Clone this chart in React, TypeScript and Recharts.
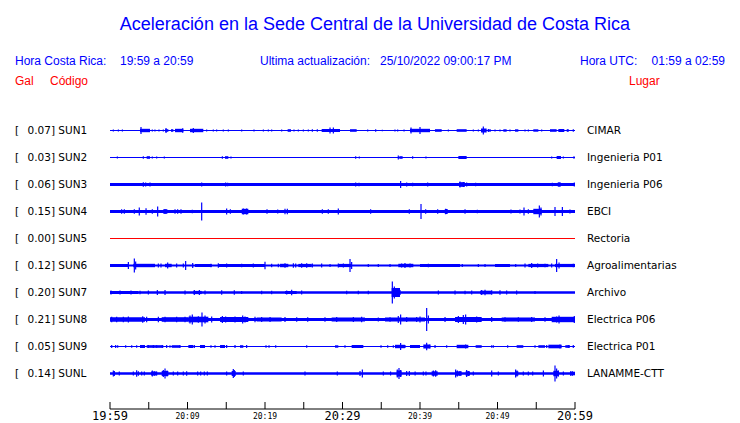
import { Area, ComposedChart, ReferenceArea, ReferenceLine, XAxis, YAxis } from "recharts"

// time axis, minutes after 19:59
const TICK_MINUTES = [0, 5, 10, 15, 20, 25, 30, 35, 40, 45, 50, 55, 60]
const TICK_LABELS = ["19:59", "", "20:09", "", "20:19", "", "20:29", "", "20:39", "", "20:49", "", "20:59"]
const MAJOR_LABELS = ["19:59", "20:29", "20:59"]

const CODES = ["SUN1", "SUN2", "SUN3", "SUN4", "SUN5", "SUN6", "SUN7", "SUN8", "SUN9", "SUNL"]
const PEAK_GAL = [0.07, 0.03, 0.06, 0.15, 0.0, 0.12, 0.2, 0.21, 0.05, 0.14]
const PLACES = [
    "CIMAR",
    "Ingenieria P01",
    "Ingenieria P06",
    "EBCI",
    "Rectoria",
    "Agroalimentarias",
    "Archivo",
    "Electrica P06",
    "Electrica P01",
    "LANAMME-CTT",
]

// half width of the steady noise band of each trace
const BASE = [0.5, 0.5, 1.4, 1.5, 0.5, 1.1, 1.2, 1.6, 0.5, 1.3]

// [minute, half amplitude]
const SPIKES_SUN1 = [
    [0.43, 1], [1.08, 1], [1.6, 1], [4.0, 3.5], [5.46, 1], [5.8, 1], [6.32, 1], [6.88, 1], [7.23, 2.5],
    [9.38, 2.3], [10.75, 2.5], [12.47, 1], [13.33, 1], [13.76, 1], [14.62, 1], [15.27, 1], [16.99, 1],
    [18.58, 1], [19.79, 1], [20.43, 1], [20.86, 1], [22.15, 1], [23.74, 1], [24.3, 1], [24.95, 1],
    [25.59, 1], [26.11, 1.3], [26.75, 1.3], [28.39, 3], [28.82, 3], [33.25, 1], [34.28, 1.2], [35.14, 0.8],
    [36.77, 1], [37.12, 1], [37.94, 1], [38.84, 3], [40.0, 3.5], [43.66, 1], [46.88, 1], [47.53, 1],
    [48.17, 4], [48.82, 1.5], [49.03, 1.5], [49.68, 1], [50.32, 1], [51.61, 1], [53.55, 1], [53.98, 1],
    [55.7, 1], [59.14, 1], [59.78, 1.3],
]
const SPIKES_SUN2 = [
    [0.95, 1], [4.3, 1.3], [5.46, 1], [6.02, 1], [7.01, 1], [14.5, 1.3], [15.61, 1], [31.7, 1.3], [32.17, 1],
    [37.2, 2], [39.05, 1.3], [40.77, 1], [56.99, 1], [58.5, 1], [59.87, 1.3],
]
const SPIKES_SUN3 = [
    [4.3, 2.3], [4.6, 2], [5.16, 2], [11.83, 2], [14.92, 2], [15.18, 1.8], [31.7, 2], [32.13, 1.7],
    [37.5, 3.5], [38.28, 2], [39.05, 1.7], [40.99, 2], [45.16, 3], [45.59, 2.5], [46.02, 2], [47.18, 1.7],
    [57.08, 1.7], [57.94, 2.3], [59.91, 2],
]
const SPIKES_SUN4 = [
    [1.5, 2.3], [1.85, 2.3], [3.14, 2.3], [3.78, 4], [4.65, 3.3], [5.46, 2.3], [6.15, 5], [7.1, 2.3],
    [8.39, 2.3], [8.73, 2.3], [9.16, 2.3], [10.62, 1.8], [11.83, 9], [15.05, 3], [15.53, 2.3], [17.2, 3],
    [17.63, 3], [20.26, 2.3], [21.64, 2], [22.58, 2.7], [22.88, 2.7], [27.4, 2.3], [28.17, 2.3],
    [29.46, 3], [33.63, 2.3], [38.62, 2.3], [40.13, 7.5], [40.73, 2.3], [42.28, 2.3], [43.31, 2.7],
    [45.81, 2.3], [47.4, 1.8], [51.74, 2], [52.9, 2], [53.42, 4], [53.98, 2.3], [54.84, 2.3], [55.4, 6],
    [55.61, 4], [57.42, 4.5], [58.37, 4.5], [59.35, 2],
]
const SPIKES_SUN5: number[][] = []
const SPIKES_SUN6 = [
    [2.37, 3.5], [3.14, 7], [3.31, 4], [6.24, 2], [6.58, 2], [7.44, 3], [8.6, 2], [9.46, 2], [9.76, 4.5],
    [10.67, 2.5], [12.26, 1.5], [13.03, 1.8], [13.98, 2.3], [15.05, 2], [16.99, 1.7], [18.49, 2],
    [20.0, 3.7], [20.86, 1.8], [21.72, 1.8], [22.58, 2.3], [23.66, 2.3], [23.96, 2], [24.73, 2.3],
    [25.38, 2.3], [26.11, 2], [27.31, 2], [28.39, 1.5], [29.46, 2], [30.11, 2], [30.97, 6.5], [31.18, 3.5],
    [33.33, 1.5], [34.62, 1.5], [36.13, 1.5], [37.63, 2], [38.06, 2.5], [38.71, 2], [41.08, 1.8],
    [45.46, 1.5], [47.53, 1.5], [48.39, 1.5], [49.89, 1.5], [52.35, 1.5], [53.55, 2], [54.41, 2.5],
    [55.18, 2], [56.13, 1.8], [56.99, 2], [57.63, 6.5], [57.94, 3], [58.93, 1.5], [59.78, 1.8],
]
const SPIKES_SUN7 = [
    [0.13, 2], [1.29, 2], [2.71, 2], [3.87, 1.8], [4.95, 2], [6.11, 2.5], [7.1, 2.5], [9.68, 2],
    [10.88, 2.5], [11.53, 2.5], [12.26, 2], [14.41, 2.3], [16.04, 2.3], [16.99, 1.5], [19.57, 1.8],
    [20.86, 1.8], [22.8, 2], [23.44, 2.7], [24.73, 2], [30.54, 1.8], [32.04, 1.8], [33.33, 1.8],
    [36.43, 11], [36.69, 6], [36.99, 4], [37.42, 2.5], [42.37, 2], [44.52, 2], [45.81, 1.8], [46.67, 2],
    [47.96, 2.5], [48.39, 2.7], [49.25, 2.3], [50.32, 2.3], [51.18, 2], [52.47, 2], [54.84, 1.5],
]
const SPIKES_SUN8 = [
    [0.22, 2.7], [0.86, 2.7], [1.72, 2.7], [2.37, 3], [4.22, 3.3], [4.73, 2.7], [6.24, 2.7], [7.1, 2.7],
    [8.6, 2.7], [9.68, 2.7], [10.32, 4], [10.62, 5], [11.4, 3.3], [11.87, 7], [12.26, 4], [13.12, 3],
    [14.5, 3.5], [14.92, 3], [16.13, 3], [17.12, 4], [17.42, 3], [18.71, 2.7], [19.57, 2.5], [20.65, 2.5],
    [22.58, 2.5], [24.09, 2.3], [25.51, 2.3], [27.74, 2.3], [29.25, 2.5], [31.4, 2.5], [32.47, 2.7],
    [34.62, 2], [36.13, 2.3], [37.2, 3.5], [37.5, 5], [38.28, 2.5], [39.57, 2.5], [40.0, 3], [40.86, 11.5],
    [41.08, 4], [43.23, 2.5], [44.95, 3.5], [45.59, 4.5], [45.89, 5], [47.31, 3], [49.25, 2.5],
    [50.97, 2.3], [52.69, 2.3], [54.41, 2.5], [56.13, 2.3], [57.63, 3], [57.94, 4], [59.91, 3.5],
]
const SPIKES_SUN9 = [
    [0.22, 1.5], [0.73, 1.5], [0.99, 1.3], [2.02, 1.3], [2.8, 1.3], [3.44, 1.3], [4.95, 1.5], [5.59, 1.5],
    [6.02, 1.3], [6.75, 1.5], [7.31, 1.5], [7.74, 1.3], [9.03, 1.5], [10.88, 1.5], [13.03, 1.3],
    [13.55, 1.3], [15.05, 1.5], [16.13, 1.5], [17.63, 1.5], [20.13, 1.3], [20.52, 1.3], [21.38, 1.3],
    [25.38, 1.3], [30.32, 1.3], [34.97, 1.3], [35.83, 1.3], [36.56, 1.3], [37.5, 3.5], [38.06, 1.5],
    [40.86, 3.8], [41.29, 2], [41.94, 1.5], [43.44, 1.3], [45.89, 2], [49.25, 1.3], [49.46, 1.3],
    [51.31, 1.3], [54.84, 1.3], [56.35, 1.5], [58.06, 2], [59.14, 1.5], [59.78, 1.5],
]
const SPIKES_SUNL = [
    [0.43, 3], [0.56, 2.5], [1.2, 2], [3.01, 2], [3.44, 3.3], [3.66, 2.3], [4.09, 2], [4.43, 2],
    [5.46, 3], [5.72, 2.3], [6.02, 2], [6.88, 3.5], [7.1, 5], [7.36, 3], [8.17, 2], [8.73, 2], [9.46, 2],
    [9.89, 2.3], [11.31, 2], [11.7, 2], [12.17, 2], [12.56, 2], [15.05, 2], [15.91, 4.5], [16.04, 3.5],
    [17.2, 2], [25.16, 2], [29.33, 2], [32.26, 2.5], [32.56, 4], [35.27, 2], [36.2, 2], [37.07, 4],
    [37.29, 5.5], [37.5, 3.5], [38.28, 2.5], [38.62, 2.5], [39.37, 2], [40.43, 2], [40.77, 2], [41.72, 3],
    [42.02, 3.3], [44.6, 4], [44.82, 3], [45.16, 2.5], [46.02, 3.5], [46.24, 2.5], [46.88, 2], [49.25, 3],
    [50.11, 2], [52.34, 4], [52.52, 3], [53.33, 2], [53.98, 2], [54.54, 2], [55.92, 3], [57.42, 8],
    [57.63, 5], [57.85, 3], [58.5, 2], [59.44, 2.3], [59.66, 2.3],
]

// [start minute, end minute, half amplitude]
const BURSTS_SUN1 = [
    [3.87, 5.16, 1.7], [7.1, 7.53, 1.3], [7.87, 8.17, 1.3], [8.39, 9.46, 1.7], [10.32, 12.04, 1.7],
    [22.92, 23.35, 1.3], [27.31, 29.68, 1.5], [30.97, 31.83, 1.3], [38.71, 41.29, 1.7], [41.93, 42.8, 1.3],
    [44.73, 46.02, 1.3], [47.87, 48.6, 2], [50.75, 51.18, 1.2], [52.26, 52.69, 1.2], [54.62, 55.27, 1.2],
    [56.77, 57.63, 1.3], [57.85, 58.62, 1.5], [58.93, 59.14, 1.3],
]
const BURSTS_SUN2 = [
    [4.73, 5.16, 1.3], [14.84, 15.27, 1.3], [37.33, 37.76, 1.3], [44.95, 46.02, 1.5], [57.63, 58.19, 1.5],
]
const BURSTS_SUN3 = [[45.03, 45.81, 2.3], [57.76, 58.19, 2]]
const BURSTS_SUN4 = [[6.88, 7.4, 2.3], [17.0, 17.85, 2.7], [43.2, 43.57, 2.5], [54.62, 55.7, 2.7]]
const BURSTS_SUN5: number[][] = []
const BURSTS_SUN6 = [
    [0.0, 2.37, 1.5], [3.01, 5.81, 1.7], [7.1, 7.96, 1.7], [10.97, 13.12, 1.5], [13.98, 19.99, 1.5],
    [21.94, 23.01, 1.7], [24.3, 26.02, 1.6], [29.46, 31.18, 1.6], [37.2, 39.14, 1.7], [40.0, 45.16, 1.5],
    [49.68, 51.61, 1.5], [53.98, 56.56, 1.6], [57.42, 60, 1.6],
]
const BURSTS_SUN7 = [
    [0.0, 3.66, 1.5], [10.75, 11.83, 1.6], [22.58, 24.09, 1.5], [36.34, 37.42, 4.5], [47.74, 49.25, 1.8],
]
const BURSTS_SUN8 = [
    [0.0, 4.52, 2.3], [6.67, 10.11, 2.3], [10.11, 12.69, 2.8], [14.2, 17.85, 2.5], [18.92, 22.15, 2],
    [28.6, 32.9, 2], [35.48, 40.65, 2], [44.52, 47.96, 2.5], [50.54, 54.84, 2], [56.99, 60, 2.7],
]
const BURSTS_SUN9 = [
    [3.87, 4.52, 1.5], [4.73, 6.88, 1.3], [7.96, 9.03, 1.3], [10.11, 10.75, 1.5], [11.61, 12.26, 1.5],
    [14.2, 14.84, 1.5], [16.77, 17.2, 1.3], [29.03, 29.46, 1.2], [31.18, 32.69, 1.5], [36.77, 38.06, 1.7],
    [38.71, 40.0, 1.5], [40.43, 41.29, 2], [44.73, 46.24, 1.7], [47.18, 47.96, 1.3], [52.47, 53.33, 1.3],
    [55.27, 56.13, 1.3], [56.56, 58.28, 1.8], [58.75, 59.35, 1.3],
]
const BURSTS_SUNL = [
    [5.29, 6.02, 2], [6.67, 7.53, 2.5], [15.7, 16.22, 2.5], [36.99, 37.63, 3], [41.5, 42.28, 2.2],
    [44.52, 45.38, 2.2], [45.89, 46.45, 2.2], [52.26, 52.69, 2.2], [57.2, 57.94, 2.7], [59.35, 60, 1.8],
]

const SPIKES = [
    SPIKES_SUN1, SPIKES_SUN2, SPIKES_SUN3, SPIKES_SUN4, SPIKES_SUN5,
    SPIKES_SUN6, SPIKES_SUN7, SPIKES_SUN8, SPIKES_SUN9, SPIKES_SUNL,
]
const BURSTS = [
    BURSTS_SUN1, BURSTS_SUN2, BURSTS_SUN3, BURSTS_SUN4, BURSTS_SUN5,
    BURSTS_SUN6, BURSTS_SUN7, BURSTS_SUN8, BURSTS_SUN9, BURSTS_SUNL,
]

const BLUE = "#0000ff"
const RED = "#ff0000"
const ROW = 27
const N = CODES.length
const center = (i: number) => (N - 0.5 - i) * ROW
const traceColor = (i: number) => (PEAK_GAL[i] === 0 ? RED : BLUE)

const bandData = [0, 60].map((t) => {
    const row: Record<string, any> = { t }
    BASE.forEach((b, i) => {
        row[`b${i}`] = [center(i) - b, center(i) + b]
    })
    return row
})

const rowIndex = (v: number) => Math.round(N - 0.5 - v / ROW)

function StationTick(props: any) {
    const { y, payload } = props
    const i = rowIndex(payload.value)
    return (
        <g fontFamily="DejaVu Sans" fontSize={10.5} fill="#000">
            <text x={15} y={y} dy="0.35em">[</text>
            <text x={27.5} y={y} dy="0.35em">{`${PEAK_GAL[i].toFixed(2)}] ${CODES[i]}`}</text>
        </g>
    )
}

function PlaceTick(props: any) {
    const { x, y, payload } = props
    const i = rowIndex(payload.value)
    return (
        <text x={x} y={y} dy="0.35em" fontFamily="DejaVu Sans" fontSize={10.5} fill="#000" textAnchor="start">
            {PLACES[i]}
        </text>
    )
}

function TimeTick(props: any) {
    const { x, y, payload } = props
    const label = TICK_LABELS[TICK_MINUTES.indexOf(payload.value)]
    const major = MAJOR_LABELS.includes(label)
    return (
        <g>
            <line x1={x} y1={y} x2={x} y2={y - 7} stroke="#000" />
            {label && (
                <text
                    x={x}
                    y={major ? y + 11 : y + 9.5}
                    textAnchor="middle"
                    fontFamily="DejaVu Sans Mono"
                    fontSize={major ? 12 : 8}
                    fill="#000"
                >
                    {label}
                </text>
            )}
        </g>
    )
}

function Header() {
    const f = { fontFamily: "Liberation Sans, Arial, sans-serif" }
    return (
        <svg width={740} height={423} style={{ position: "absolute", left: 0, top: 0, pointerEvents: "none" }}>
            <text x={375} y={29.5} textAnchor="middle" fontSize={18} fill={BLUE} {...f}>
                Aceleración en la Sede Central de la Universidad de Costa Rica
            </text>
            <g fontSize={12} fill={BLUE} {...f}>
                <text x={15} y={65}>Hora Costa Rica:</text>
                <text x={120} y={65}>19:59 a 20:59</text>
                <text x={260} y={65}>Ultima actualización:</text>
                <text x={380} y={65}>25/10/2022 09:00:17 PM</text>
                <text x={580} y={65}>Hora UTC:</text>
                <text x={725} y={65} textAnchor="end">01:59 a 02:59</text>
            </g>
            <g fontSize={12} fill={RED} {...f}>
                <text x={15} y={85}>Gal</text>
                <text x={50} y={85}>Código</text>
                <text x={629} y={85}>Lugar</text>
            </g>
        </svg>
    )
}

export default function App() {
    const centers = CODES.map((_, i) => center(i))
    return (
        <div style={{ position: "absolute", left: 0, top: 0, width: 740, height: 423, background: "#fff" }}>
            <ComposedChart width={740} height={423} data={bandData} margin={{ top: 117, right: 0, bottom: 0, left: 0 }}>
                <XAxis
                    dataKey="t"
                    type="number"
                    domain={[0, 60]}
                    ticks={TICK_MINUTES}
                    interval={0}
                    height={14}
                    tickSize={0}
                    tickMargin={0}
                    tickLine={false}
                    axisLine={{ stroke: "#000" }}
                    tick={<TimeTick />}
                    allowDataOverflow
                />
                <YAxis
                    yAxisId="left"
                    type="number"
                    domain={[-22, N * ROW]}
                    ticks={centers}
                    interval={0}
                    width={110}
                    axisLine={false}
                    tickLine={false}
                    tickSize={0}
                    tick={<StationTick />}
                    allowDataOverflow
                />
                <YAxis
                    yAxisId="right"
                    orientation="right"
                    type="number"
                    domain={[-22, N * ROW]}
                    ticks={centers}
                    interval={0}
                    width={165}
                    axisLine={false}
                    tickLine={false}
                    tickSize={0}
                    tickMargin={12}
                    tick={<PlaceTick />}
                    allowDataOverflow
                />
                {CODES.map((c, i) => (
                    <Area
                        key={c}
                        yAxisId="left"
                        type="linear"
                        dataKey={`b${i}`}
                        stroke="none"
                        fill={traceColor(i)}
                        fillOpacity={1}
                        dot={false}
                        activeDot={false}
                        isAnimationActive={false}
                    />
                ))}
                {BURSTS.flatMap((list, i) =>
                    list.map(([t0, t1, a], k) => (
                        <ReferenceArea
                            key={`a${i}-${k}`}
                            yAxisId="left"
                            x1={t0}
                            x2={t1}
                            y1={center(i) - a}
                            y2={center(i) + a}
                            fill={traceColor(i)}
                            fillOpacity={1}
                            stroke="none"
                            ifOverflow="visible"
                        />
                    ))
                )}
                {SPIKES.flatMap((list, i) =>
                    list.map(([t, a], k) => (
                        <ReferenceLine
                            key={`s${i}-${k}`}
                            yAxisId="left"
                            segment={[
                                { x: t, y: center(i) - a },
                                { x: t, y: center(i) + a },
                            ]}
                            stroke={traceColor(i)}
                            strokeWidth={1.2}
                            ifOverflow="visible"
                        />
                    ))
                )}
            </ComposedChart>
            <Header />
        </div>
    )
}
